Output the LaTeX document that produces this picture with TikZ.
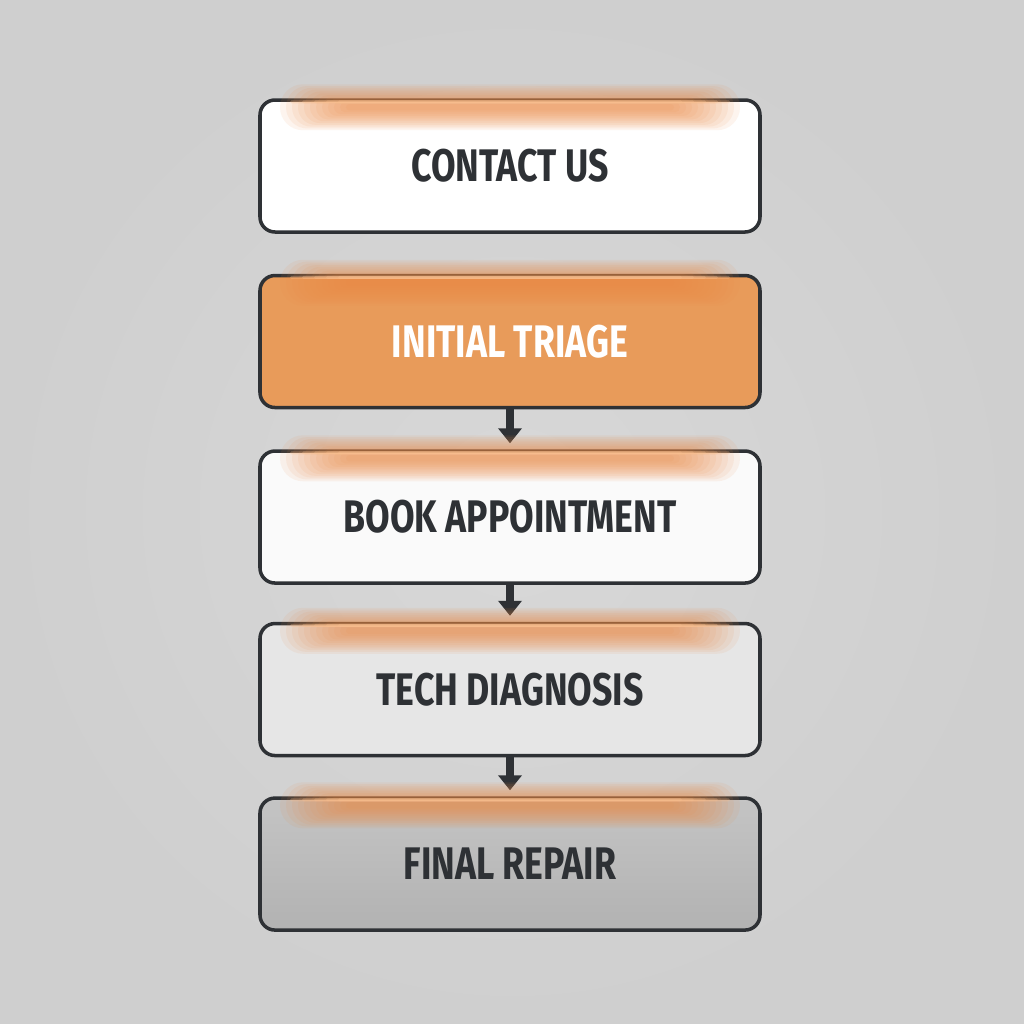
\documentclass[tikz,border=0pt]{standalone}
\usepackage{fontspec}
\setmainfont{Fira Sans}[FakeStretch=0.78]
\usetikzlibrary{positioning, arrows.meta}

\definecolor{bgGray}{HTML}{CFCFCF}
\definecolor{bgLight}{HTML}{D8D8D8}
\definecolor{inkDark}{HTML}{2E3135}
\definecolor{glowOrange}{HTML}{EC8A45}
\definecolor{glowLine}{HTML}{FAC090}
\definecolor{triageOrange}{HTML}{E89B5A}
\definecolor{diagGray}{HTML}{E6E6E6}
\definecolor{repairTop}{HTML}{C4C4C4}
\definecolor{repairBot}{HTML}{B2B2B2}

\tikzstyle{stepbox}=[draw=inkDark, line width=1pt, rounded corners=0.15cm, minimum width=5cm, minimum height=1.32cm, font=\bfseries\fontsize{13}{15}\selectfont, text=inkDark]
\tikzstyle{flow}=[-{Triangle[width=0.23cm, length=0.15cm]}, line width=2pt, draw=inkDark, shorten >=0.06cm]

\begin{document}
\begin{tikzpicture}[node distance=0.40cm]
% Background
    \shade[inner color=bgLight, outer color=bgGray] (0,0) rectangle (10.24,-10.24);
    \useasboundingbox (0,0) rectangle (10.24,-10.24);
% Steps
    \node[stepbox, fill=white] (contact) at (5.10,-1.66) {CONTACT US};
    \node[stepbox, fill=triageOrange, text=white, below=of contact] (triage) {INITIAL TRIAGE};
    \node[stepbox, fill=white!98!black, below=of triage] (booking) {BOOK APPOINTMENT};
    \node[stepbox, fill=diagGray, below=0.37cm of booking] (diagnosis) {TECH DIAGNOSIS};
    \node[stepbox, top color=repairTop, bottom color=repairBot, below=0.39cm of diagnosis] (repair) {FINAL REPAIR};
% Arrows
    \draw[flow] (triage.south) -- (booking.north);
    \draw[flow] (booking.south) -- (diagnosis.north);
    \draw[flow] (diagnosis.south) -- (repair.north);
% Glow on top edges
    \foreach \n in {contact, triage, booking, diagnosis, repair} {
        \coordinate (g) at ([yshift=-0.09cm]\n.north);
        \foreach \k in {0,...,11} {
            \pgfmathsetmacro{\w}{2.30-0.06*\k}
            \pgfmathsetmacro{\h}{0.23-0.018*\k}
            \fill[glowOrange, opacity=0.09, rounded corners=\h cm] ([xshift=-\w cm, yshift=-\h cm]g) rectangle ([xshift=\w cm, yshift=\h cm]g);
        }
        \foreach \k in {0,...,4} {
            \pgfmathsetmacro{\w}{2.20-0.12*\k}
            \fill[glowLine, opacity=0.3, rounded corners=0.015cm] ([xshift=-\w cm, yshift=-0.05cm]\n.north) rectangle ([xshift=\w cm, yshift=-0.02cm]\n.north);
        }
    }
\end{tikzpicture}
\end{document}
